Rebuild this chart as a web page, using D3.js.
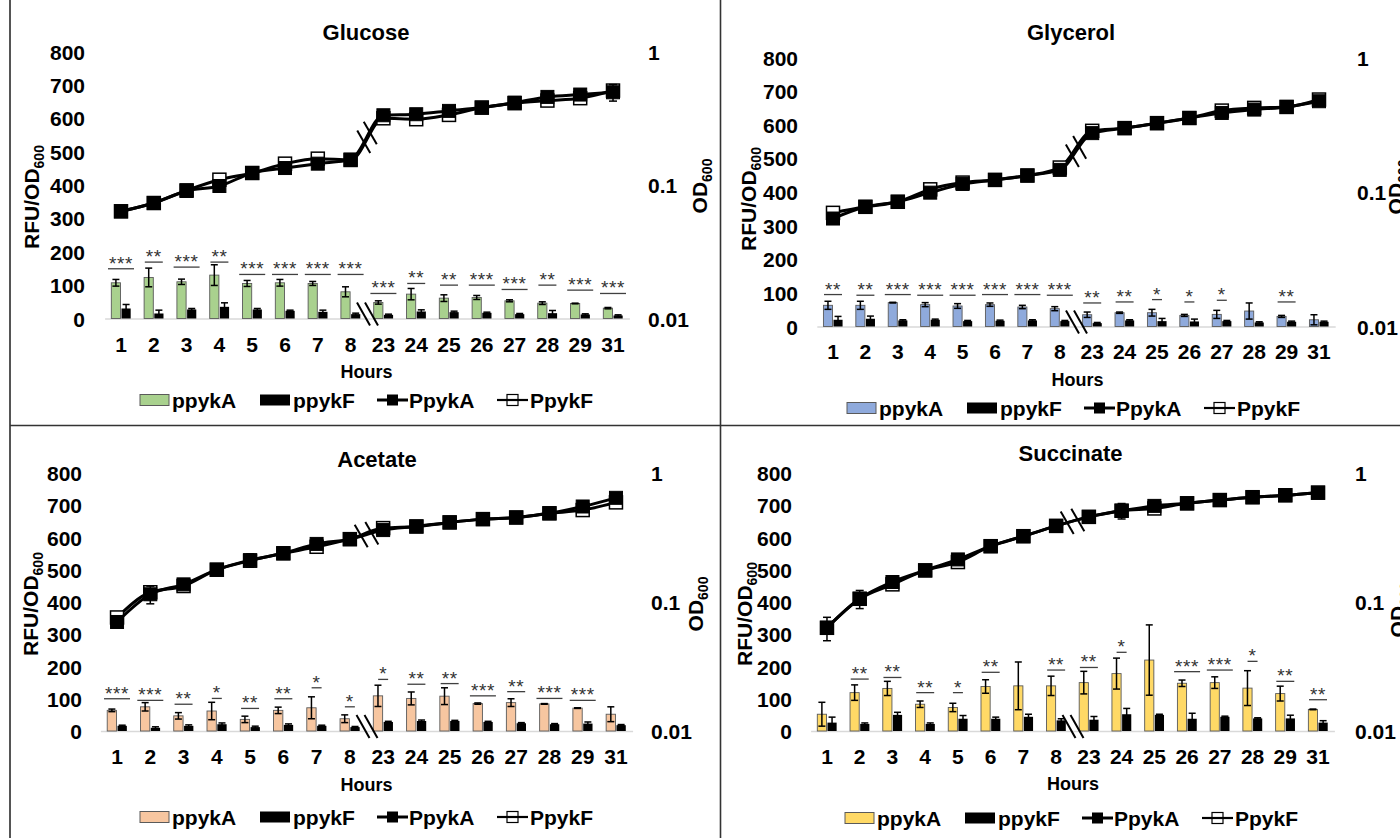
<!DOCTYPE html>
<html><head><meta charset="utf-8">
<script src="https://cdn.jsdelivr.net/npm/d3@7"></script>
<style>body{margin:0;background:#fff;} svg{display:block;}</style>
</head><body><svg id="chart" width="1400" height="838"></svg>
<script>
// ---------- DATA ----------
const hours = ["1","2","3","4","5","6","7","8","23","24","25","26","27","28","29","31"];
const leftTicks = [0,100,200,300,400,500,600,700,800];
const rightTicks = [0.01,0.1,1];
const rightTickLabels = ["0.01","0.1","1"];
const seriesNames = ["ppykA","ppykF","PpykA","PpykF"];
const panelTitles = ["Glucose","Glycerol","Acetate","Succinate"];

// Glucose
const glucoseA    = [107,123,110,130,105,107,105,80,48,73,61,63,53,46,45,31];
const glucoseAErr = [10,28,8,31,9,10,6,15,5,17,10,6,3,4,1,2];
const glucoseF    = [30,15,27,35,27,23,20,13,11,21,19,17,13,16,12,9];
const glucoseFErr = [12,10,3,12,3,2,5,3,2,5,3,2,2,8,2,2];
const glucoseSig  = ["***","**","***","**","***","***","***","***","***","**","**","***","***","**","***","***"];
const glucoseSigY = [149,169,154,169,132,132,132,132,75,105,100,100,87,100,85,75];
const glucoseODA  = [0.0635,0.0733,0.0902,0.0983,0.123,0.134,0.1445,0.155,0.333,0.339,0.359,0.380,0.414,0.457,0.476,0.495];
const glucoseODF  = [0.0635,0.0733,0.0912,0.1096,0.123,0.1445,0.1575,0.154,0.316,0.311,0.335,0.380,0.410,0.429,0.447,0.510];
const glucoseODAErr = [0,0,0,0,0,0,0,0,0,0,0,0,0.04,0,0,0.07];
const glucoseODFErr = [0,0,0,0,0,0,0,0,0,0.02,0,0,0,0,0,0];

// Glycerol
const glycerolA    = [63,63,71,65,61,65,58,53,35,41,41,33,36,46,30,20];
const glycerolAErr = [12,12,1,6,7,5,5,6,8,2,10,3,12,24,3,15];
const glycerolF    = [20,23,18,20,16,17,18,16,10,18,16,15,16,12,14,14];
const glycerolFErr = [10,8,2,2,2,2,2,2,2,2,8,7,2,2,2,2];
const glycerolSig  = ["**","**","***","***","***","***","***","***","**","**","*","*","*","","**",""];
const glycerolSigY = [95,93,95,93,93,95,95,93,70,73,80,73,78,0,73,0];
const glycerolODA  = [0.0635,0.0776,0.0846,0.0989,0.1148,0.123,0.1326,0.146,0.274,0.2985,0.325,0.355,0.387,0.410,0.429,0.473];
const glycerolODF  = [0.070,0.0776,0.0846,0.1047,0.1175,0.123,0.1326,0.152,0.285,0.2985,0.325,0.355,0.403,0.422,0.429,0.487];
const glycerolODAErr = [0,0,0,0,0,0,0,0,0,0,0,0,0,0,0,0];
const glycerolODFErr = [0,0,0,0,0,0,0,0,0,0,0,0,0,0,0,0];

// Acetate
const acetateA    = [64,75,47,62,36,64,72,38,109,101,108,85,88,84,71,52];
const acetateAErr = [4,13,10,27,10,10,34,12,33,20,26,2,12,1,1,23];
const acetateF    = [16,10,16,21,12,19,16,12,28,31,31,28,24,21,23,18];
const acetateFErr = [2,3,3,4,3,3,2,2,2,3,2,2,2,2,5,2];
const acetateSig  = ["***","***","**","*","**","**","*","*","*","**","**","***","**","***","***",""];
const acetateSigY = [100,95,83,101,70,100,134,75,160,145,147,109,122,101,95,0];
const acetateODA  = [0.070,0.1148,0.137,0.178,0.211,0.2385,0.282,0.307,0.361,0.385,0.414,0.439,0.452,0.487,0.550,0.642];
const acetateODF  = [0.0759,0.119,0.133,0.178,0.209,0.2385,0.268,0.307,0.374,0.385,0.414,0.439,0.452,0.487,0.516,0.592];
const acetateODAErr = [0.006,0.018,0,0,0.025,0,0,0,0,0,0,0,0,0,0,0];
const acetateODFErr = [0,0,0,0,0,0,0,0,0,0,0,0,0,0,0,0];

// Succinate
const succinateA    = [52,119,132,83,73,138,140,140,150,178,220,148,150,133,116,67];
const succinateAErr = [37,24,22,10,13,21,74,30,35,48,109,10,18,54,23,1];
const succinateF    = [26,22,50,22,38,38,44,33,35,52,50,38,44,39,39,26];
const succinateFErr = [17,3,8,3,10,5,8,5,10,18,2,17,2,2,10,6];
const succinateSig  = ["","**","**","**","*","**","","**","**","*","","***","***","*","**","**"];
const succinateSigY = [0,161,166,119,119,182,0,189,197,244,0,184,189,216,154,97];
const succinateODA  = [0.0631,0.1059,0.1429,0.1758,0.2138,0.2707,0.3236,0.389,0.457,0.510,0.556,0.582,0.617,0.649,0.672,0.704];
const succinateODF  = [0.0631,0.1059,0.137,0.1758,0.204,0.2707,0.3236,0.389,0.457,0.510,0.531,0.582,0.617,0.649,0.672,0.704];
const succinateODAErr = [0.013,0.017,0,0,0,0,0,0,0,0.07,0,0,0,0,0,0];
const succinateODFErr = [0,0,0,0,0,0,0,0,0,0,0,0,0,0,0,0];

// ---------- LAYOUT ----------
const FONT = '"Liberation Sans", Arial, Helvetica, sans-serif';
const panels = [
  {title:panelTitles[0], color:"#a9d18e", A:glucoseA, AE:glucoseAErr, F:glucoseF, FE:glucoseFErr, sig:glucoseSig, sigY:glucoseSigY, oA:glucoseODA, oF:glucoseODF, oAE:glucoseODAErr, oFE:glucoseODFErr,
   x0:104.6, x1:629.4, y0:318.5, y1:51.5, tickX:85, rightX:648, odX:707, odY:186, rfuX:39, rfuY:197, titleX:366, titleY:40, xtickY:352, hoursX:366.5, hoursY:378, legX:140, legY:400},
  {title:panelTitles[1], color:"#8faadc", A:glycerolA, AE:glycerolAErr, F:glycerolF, FE:glycerolFErr, sig:glycerolSig, sigY:glycerolSigY, oA:glycerolODA, oF:glycerolODF, oAE:glycerolODAErr, oFE:glycerolODFErr,
   x0:816.8, x1:1335.2, y0:326.5, y1:57.5, tickX:798, rightX:1357, odX:1403, odY:187, rfuX:756, rfuY:199, titleX:1071, titleY:40, xtickY:359, hoursX:1077.5, hoursY:386, legX:847, legY:408},
  {title:panelTitles[2], color:"#f7c6a0", A:acetateA, AE:acetateAErr, F:acetateF, FE:acetateFErr, sig:acetateSig, sigY:acetateSigY, oA:acetateODA, oF:acetateODF, oAE:acetateODAErr, oFE:acetateODFErr,
   x0:100.4, x1:632.6, y0:731, y1:473, tickX:82, rightX:651, odX:703, odY:604, rfuX:38, rfuY:604, titleX:377, titleY:467, xtickY:764, hoursX:366.5, hoursY:791, legX:140, legY:817},
  {title:panelTitles[3], color:"#ffd966", A:succinateA, AE:succinateAErr, F:succinateF, FE:succinateFErr, sig:succinateSig, sigY:succinateSigY, oA:succinateODA, oF:succinateODF, oAE:succinateODAErr, oFE:succinateODFErr,
   x0:810.6, x1:1334.4, y0:731, y1:473, tickX:792, rightX:1355, odX:1405, odY:610, rfuX:752, rfuY:614, titleX:1070.5, titleY:461, xtickY:764, hoursX:1073, hoursY:790, legX:845, legY:818}
];

const svg = d3.select("#chart").attr("font-family", FONT);

// frame lines
svg.append("line").attr("x1",10).attr("x2",10).attr("y1",0).attr("y2",838).attr("stroke","#555").attr("stroke-width",2);
svg.append("line").attr("x1",720.5).attr("x2",720.5).attr("y1",0).attr("y2",838).attr("stroke","#333").attr("stroke-width",1.6);
svg.append("line").attr("x1",10).attr("x2",1400).attr("y1",425.5).attr("y2",425.5).attr("stroke","#333").attr("stroke-width",1.6);

function errBar(g, xc, yTop, yBot, cap) {
  g.append("line").attr("x1",xc).attr("x2",xc).attr("y1",yTop).attr("y2",yBot).attr("stroke","#000").attr("stroke-width",1.5);
  g.append("line").attr("x1",xc-cap/2).attr("x2",xc+cap/2).attr("y1",yTop).attr("y2",yTop).attr("stroke","#000").attr("stroke-width",1.5);
  g.append("line").attr("x1",xc-cap/2).attr("x2",xc+cap/2).attr("y1",yBot).attr("y2",yBot).attr("stroke","#000").attr("stroke-width",1.5);
}

function axisTitle(g, x, y, main, sub) {
  const t = g.append("text").attr("transform",`translate(${x},${y}) rotate(-90)`)
    .attr("text-anchor","middle").attr("font-size",21).attr("font-weight","bold").attr("fill","#000");
  t.append("tspan").text(main);
  t.append("tspan").attr("font-size",14).attr("dy",5).text(sub);
}

function drawPanel(p) {
  const g = svg.append("g");
  const x = d3.scaleBand().domain(hours).range([p.x0, p.x1]);
  const y = d3.scaleLinear().domain([0,800]).range([p.y0, p.y1]);
  const yr = d3.scaleLog().domain([0.01,1]).range([p.y0, p.y1]);
  const bw = x.bandwidth()*0.28;
  const cx = h => x(h) + x.bandwidth()/2;

  // left axis labels
  const la = g.append("g").attr("transform",`translate(${p.tickX},0)`)
    .call(d3.axisLeft(y).tickValues(leftTicks).tickSize(0).tickPadding(0));
  la.select(".domain").remove();
  la.attr("font-family",FONT).attr("font-size",21).attr("font-weight","bold");
  la.selectAll("text").attr("dy","0.36em").attr("fill","#000");

  // right axis labels
  const ra = g.append("g").attr("transform",`translate(${p.rightX},0)`)
    .call(d3.axisRight(yr).tickValues(rightTicks).tickFormat((d,i)=>rightTickLabels[i]).tickSize(0).tickPadding(0));
  ra.select(".domain").remove();
  ra.attr("font-family",FONT).attr("font-size",21).attr("font-weight","bold");
  ra.selectAll("text").attr("dy","0.36em").attr("fill","#000");

  // bottom axis
  const ba = g.append("g").attr("transform",`translate(0,${p.y0})`)
    .call(d3.axisBottom(x).tickSize(0).tickPadding(0));
  ba.select(".domain").attr("stroke","#d9d9d9").attr("stroke-width",1.5);
  ba.attr("font-family",FONT).attr("font-size",21).attr("font-weight","bold");
  ba.selectAll("text").attr("y", p.xtickY - p.y0).attr("dy",0).attr("fill","#000");

  // bars
  hours.forEach((h,i) => {
    const c = cx(h);
    g.append("rect").attr("x", c-bw-0.5).attr("width", bw).attr("y", y(p.A[i])).attr("height", p.y0 - y(p.A[i]))
      .attr("fill", p.color).attr("stroke","#5a5a5a").attr("stroke-width",0.9);
    g.append("rect").attr("x", c+0.5).attr("width", bw).attr("y", y(p.F[i])).attr("height", p.y0 - y(p.F[i]))
      .attr("fill", "#000");
  });
  hours.forEach((h,i) => {
    const c = cx(h);
    errBar(g, c-bw/2-0.5, y(p.A[i]+p.AE[i]), y(Math.max(0,p.A[i]-p.AE[i])), 7);
    errBar(g, c+bw/2+0.5, y(p.F[i]+p.FE[i]), y(Math.max(0,p.F[i]-p.FE[i])), 7);
  });

  // significance
  hours.forEach((h,i) => {
    const s = p.sig[i];
    if (!s) return;
    const c = cx(h), yy = y(p.sigY[i]);
    const w = s.length*8 + 2;
    g.append("line").attr("x1",c-w/2).attr("x2",c+w/2).attr("y1",yy).attr("y2",yy).attr("stroke","#404040").attr("stroke-width",1.3);
    g.append("text").attr("x",c).attr("y",yy+1).attr("text-anchor","middle").attr("font-size",19)
      .attr("letter-spacing",0.6).attr("fill","#333").text(s);
  });

  // axis break on x axis
  const cm = (cx("8") + cx("23"))/2;
  [-2, 6].forEach(off => {
    g.append("line").attr("x1", cm+off-8).attr("y1", p.y0-16).attr("x2", cm+off+5).attr("y2", p.y0+7)
      .attr("stroke","#000").attr("stroke-width",2);
  });

  // OD lines
  const line = d3.line().x((d,i)=>cx(hours[i])).y(d=>yr(d)).curve(d3.curveMonotoneX);
  g.append("path").datum(p.oF).attr("d",line).attr("fill","none").attr("stroke","#000").attr("stroke-width",3);
  hours.forEach((h,i) => { if (p.oFE[i]>0) errBar(g, cx(h), yr(p.oF[i]+p.oFE[i]), yr(p.oF[i]-p.oFE[i]), 8); });
  g.selectAll(null).data(p.oF).enter().append("rect")
    .attr("x",(d,i)=>cx(hours[i])-6.5).attr("y",d=>yr(d)-6.5).attr("width",13).attr("height",13)
    .attr("fill","#fff").attr("stroke","#000").attr("stroke-width",1.5);
  g.append("path").datum(p.oA).attr("d",line).attr("fill","none").attr("stroke","#000").attr("stroke-width",3);
  hours.forEach((h,i) => { if (p.oAE[i]>0) errBar(g, cx(h), yr(p.oA[i]+p.oAE[i]), yr(p.oA[i]-p.oAE[i]), 8); });
  g.selectAll(null).data(p.oA).enter().append("rect")
    .attr("x",(d,i)=>cx(hours[i])-6.5).attr("y",d=>yr(d)-6.5).attr("width",13).attr("height",13)
    .attr("fill","#000").attr("stroke","#000").attr("stroke-width",1);

  // break marks on the line
  const ax = cx("8"), ay = yr(p.oA[7]), bx = cx("23"), by = yr(p.oA[8]);
  const mx = (ax+bx)/2, my = (ay+by)/2;
  const L = Math.hypot(bx-ax, by-ay), ux = (bx-ax)/L, uy = (by-ay)/L;
  [-5.5, 5.5].forEach(t => {
    const px = mx + ux*t, py = my + uy*t;
    g.append("line").attr("x1", px-0.5*13).attr("y1", py-0.866*13).attr("x2", px+0.5*13).attr("y2", py+0.866*13)
      .attr("stroke","#000").attr("stroke-width",2);
  });

  // titles
  g.append("text").attr("x",p.titleX).attr("y",p.titleY).attr("text-anchor","middle")
    .attr("font-size",22).attr("font-weight","bold").text(p.title);
  g.append("text").attr("x",p.hoursX).attr("y",p.hoursY).attr("text-anchor","middle")
    .attr("font-size",18).attr("font-weight","bold").text("Hours");
  axisTitle(g, p.rfuX, p.rfuY, "RFU/OD", "600");
  axisTitle(g, p.odX, p.odY, "OD", "600");

  // legend
  const lg = g.append("g").attr("transform",`translate(${p.legX},${p.legY})`);
  const ls = 21;
  lg.append("rect").attr("x",0).attr("y",-5.5).attr("width",29).attr("height",11).attr("fill",p.color).attr("stroke","#5a5a5a").attr("stroke-width",1);
  lg.append("text").attr("x",32).attr("y",7.5).attr("font-size",ls).attr("font-weight","bold").text(seriesNames[0]);
  lg.append("rect").attr("x",120).attr("y",-5.5).attr("width",30).attr("height",11).attr("fill","#000");
  lg.append("text").attr("x",153).attr("y",7.5).attr("font-size",ls).attr("font-weight","bold").text(seriesNames[1]);
  lg.append("line").attr("x1",237).attr("x2",268).attr("y1",0).attr("y2",0).attr("stroke","#000").attr("stroke-width",3);
  lg.append("rect").attr("x",247).attr("y",-5.5).attr("width",11).attr("height",11).attr("fill","#000");
  lg.append("text").attr("x",269).attr("y",7.5).attr("font-size",ls).attr("font-weight","bold").text(seriesNames[2]);
  lg.append("rect").attr("x",367).attr("y",-5.5).attr("width",11).attr("height",11).attr("fill","#fff").attr("stroke","#000").attr("stroke-width",1.2);
  lg.append("line").attr("x1",357).attr("x2",388).attr("y1",0).attr("y2",0).attr("stroke","#000").attr("stroke-width",2.2);
  lg.append("text").attr("x",390).attr("y",7.5).attr("font-size",ls).attr("font-weight","bold").text(seriesNames[3]);
}

panels.forEach(drawPanel);
</script>
</body></html>
